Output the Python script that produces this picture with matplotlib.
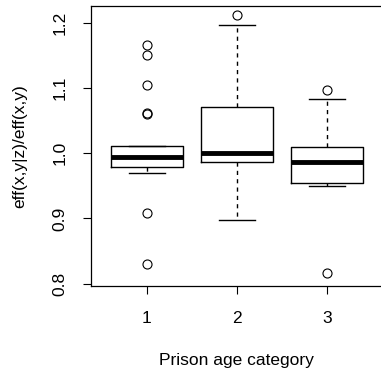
import numpy as np
import matplotlib.pyplot as plt

plt.rcParams['font.family'] = ['Liberation Sans', 'DejaVu Sans']

# box statistics
groups = ['1', '2', '3']
q1 = [0.9785, 0.987, 0.955]
med = [0.9947, 1.000, 0.987]
q3 = [1.011, 1.071, 1.009]
whislo = [0.970, 0.898, 0.950]
whishi = [1.011, 1.196, 1.083]
fliers = [
    [1.165, 1.151, 1.104, 1.062, 1.060, 0.909, 0.830],
    [1.211],
    [1.096, 0.816],
]

stats = []
for i in range(len(groups)):
    stats.append(dict(label=groups[i], q1=q1[i], med=med[i], q3=q3[i],
                      whislo=whislo[i], whishi=whishi[i], fliers=fliers[i]))

fig = plt.figure(figsize=(3.81, 3.77), dpi=100)
# right edge of R's plot region falls just outside the image
ax = fig.add_axes([91 / 381, 1 - 285.7 / 377, (382.8 - 91) / 381, (285.7 - 5.6) / 377])

ax.bxp(stats, positions=[1, 2, 3], widths=0.8,
       boxprops=dict(color='black', linewidth=1),
       medianprops=dict(color='black', linewidth=3.5, solid_capstyle='butt'),
       whiskerprops=dict(color='black', linewidth=1, linestyle=(0, (3, 3))),
       capprops=dict(color='black', linewidth=1),
       capwidths=0.4,
       flierprops=dict(marker='o', markerfacecolor='none', markeredgecolor='black',
                       markersize=6.5, markeredgewidth=0.8))

ax.set_xlim(0.38, 3.62)
ax.set_ylim(0.797, 1.226)
ax.set_yticks([0.8, 0.9, 1.0, 1.1, 1.2])
ax.set_yticklabels(['0.8', '0.9', '1.0', '1.1', '1.2'], rotation=90, va='center')
ax.set_xticks([1, 2, 3])
ax.set_xticklabels(groups)
ax.tick_params(axis='both', length=6, width=0.8, labelsize=12.5, colors='black')
ax.tick_params(axis='x', pad=12)
ax.tick_params(axis='y', pad=11)
for s in ax.spines.values():
    s.set_linewidth(0.9)

ax.set_xlabel('Prison age category', fontsize=12.5, labelpad=20)
ax.set_ylabel('eff(x,y|z)/eff(x,y)', fontsize=12.5, labelpad=18)

fig.savefig('out.png', dpi=100)
